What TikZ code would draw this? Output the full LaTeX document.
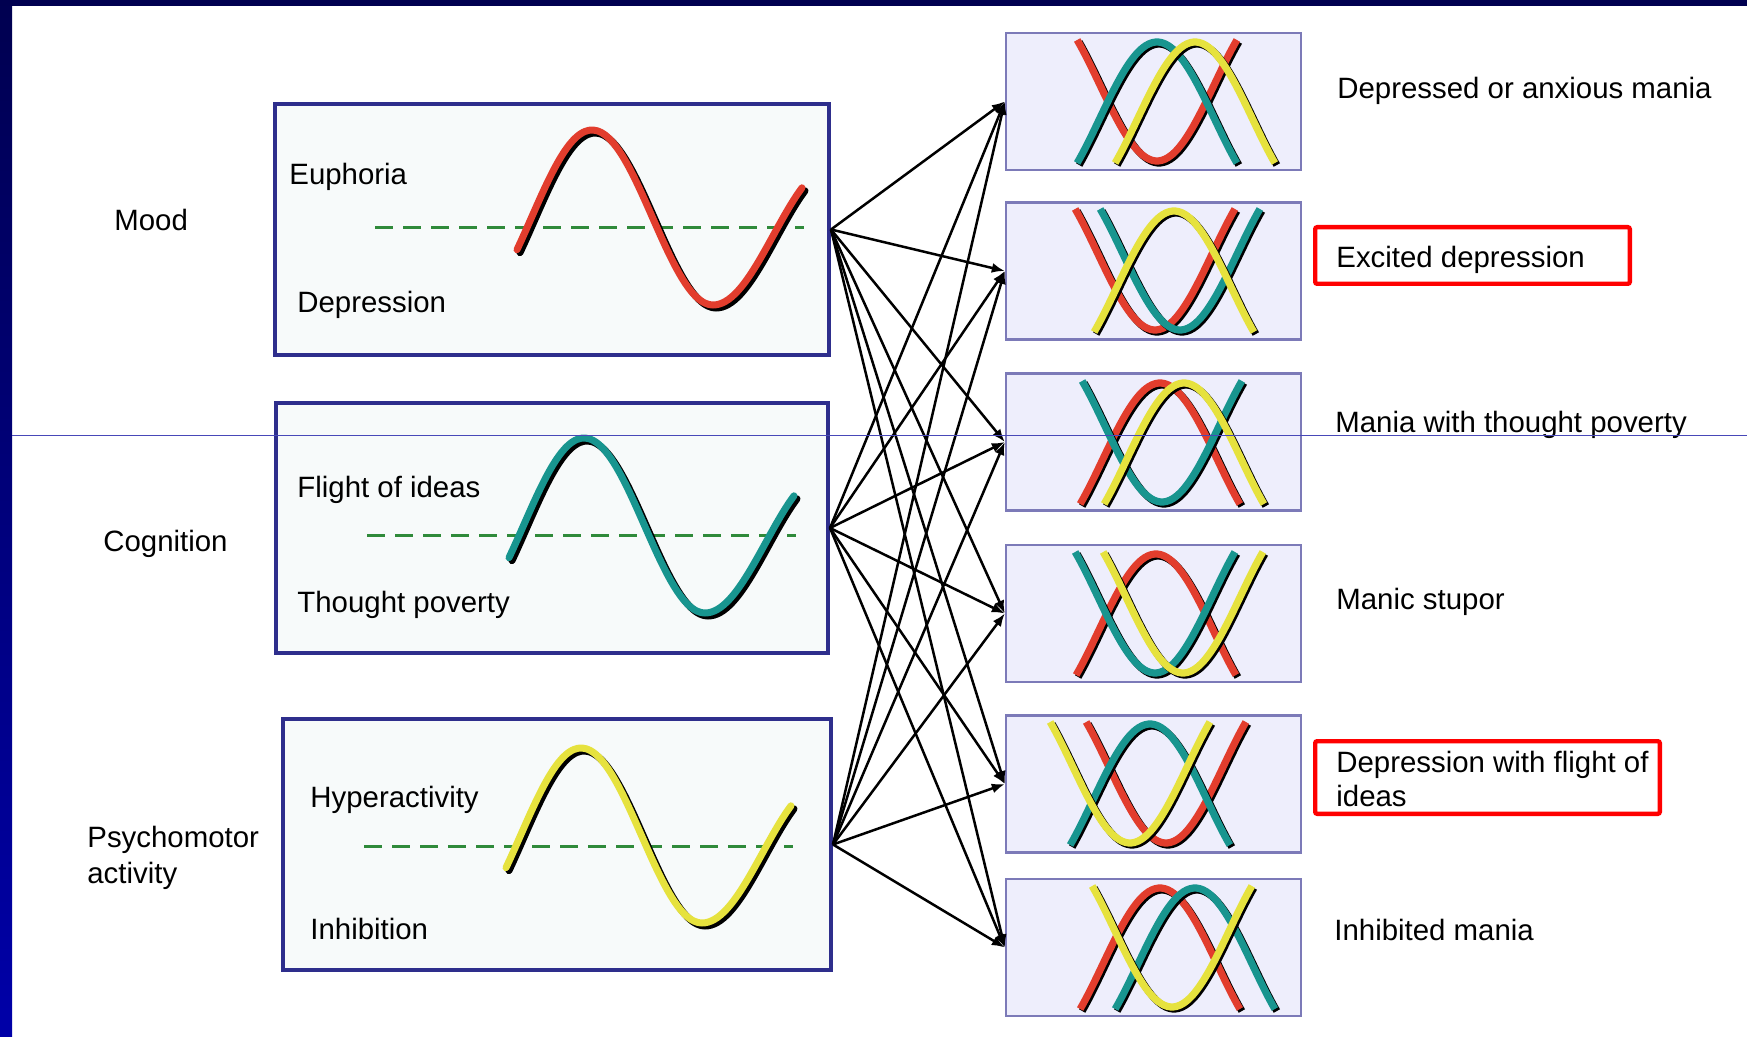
\documentclass[tikz,border=0pt]{standalone}
\usepackage{fontspec}
\setmainfont{Liberation Sans}
\usetikzlibrary{arrows.meta,calc}
\definecolor{navyA}{HTML}{000050}
\definecolor{navyB}{HTML}{0000A8}
\definecolor{lboxdraw}{HTML}{2E2E8C}
\definecolor{lboxfill}{HTML}{F7FAFA}
\definecolor{rboxdraw}{HTML}{7C7AB8}
\definecolor{rboxfill}{HTML}{EEEEFC}
\definecolor{cred}{HTML}{E23D2D}
\definecolor{cteal}{HTML}{18958F}
\definecolor{cyel}{HTML}{E6E23E}
\definecolor{dgreen}{HTML}{2F8A3A}
\definecolor{rulecol}{HTML}{4848B8}
\newcommand{\wavepath}[2]{%
  plot[domain=-75:121, samples=50, smooth] ({#1+\x}, {#2-10.5-87.5*cos(\x/121*180)})
  -- plot[domain=0:89, samples=30, smooth] ({#1+121+\x}, {#2+77-70*(1-cos(\x/121*180))})}
\newcommand{\humppath}[3]{%
  plot[domain=-125:125, samples=50, smooth] ({#1+\x/180*115}, {#2+68.5+(#3)*(17.4-76.9*cos(\x))})}
\begin{document}
\begin{tikzpicture}[x=0.5pt,y=-0.5pt,
  lbox/.style={draw=lboxdraw, fill=lboxfill, line width=2pt, inner sep=0pt},
  rbox/.style={draw=rboxdraw, fill=rboxfill, line width=1.2pt, inner sep=0pt, minimum width=147.5pt, minimum height=68.5pt},
  lbl/.style={anchor=base west, inner sep=0pt, font=\fontsize{14.7pt}{17.4pt}\selectfont},
  conn/.style={line width=1.25pt, -{Latex[length=6.5pt,width=5pt]}},
  redbox/.style={draw=red, line width=2.2pt, rounded corners=1pt, inner sep=0pt},
  wshadow/.style={black, line width=3.5pt, xshift=1.5pt, yshift=-1.5pt, line cap=round},
  wline/.style={line width=3.5pt, line cap=round},
  hshadow/.style={black, line width=3.6pt, xshift=1pt, yshift=-1pt},
  hstroke/.style={line width=3.6pt},
  dashline/.style={dgreen, line width=1.5pt, dash pattern=on 9pt off 5pt},
]
\useasboundingbox (0,0) rectangle (1747,1037);
% background
\fill[white] (0,0) rectangle (1747,1037);
\shade[top color=navyA, bottom color=navyB] (0,0) rectangle (12,1037);
\fill[navyA] (0,0) rectangle (1747,6);

% left boxes
\node[lbox, minimum width=277pt, minimum height=125.5pt] (mood) at (552,229.5) {};
\node[lbox, minimum width=276pt, minimum height=125pt] (cog) at (552,528) {};
\node[lbox, minimum width=274pt, minimum height=125.5pt] (psy) at (557,844.5) {};

% right boxes
\node[rbox] (r1) at (1153.5,101.5) {};
\node[rbox] (r2) at (1153.5,271) {};
\node[rbox] (r3) at (1153.5,442) {};
\node[rbox] (r4) at (1153.5,613.5) {};
\node[rbox] (r5) at (1153.5,784) {};
\node[rbox] (r6) at (1153.5,947.5) {};

% connectors
\foreach \l in {mood,cog,psy}
  \foreach \r in {r1,r2,r3,r4,r5,r6}
    \draw[conn] (\l.east) -- (\r.west);

% left waves
\draw[dashline] (375,228) -- (804,228);
\draw[wshadow] \wavepath{592}{228};
\draw[wline, cred] \wavepath{592}{228};
\draw[dashline] (367,536) -- (796,536);
\draw[wshadow] \wavepath{584}{536};
\draw[wline, cteal] \wavepath{584}{536};
\draw[dashline] (364,846) -- (793,846);
\draw[wshadow] \wavepath{581}{846};
\draw[wline, cyel] \wavepath{581}{846};

% right curves: center x, box top, +1 hump / -1 valley
\foreach \cx/\ty/\sg/\col in {
  1157/33/-1/cred, 1157/33/1/cteal, 1195/33/1/cyel,
  1155/202/-1/cred, 1180/202/-1/cteal, 1174/202/1/cyel,
  1160/374/1/cred, 1162/374/-1/cteal, 1184/374/1/cyel,
  1156/545/1/cred, 1155/545/-1/cteal, 1183/545/-1/cyel,
  1166/715/-1/cred, 1150/715/1/cteal, 1130/715/-1/cyel,
  1160/879/1/cred, 1195/879/1/cteal, 1172/879/-1/cyel}{
  \draw[hshadow] \humppath{\cx}{\ty}{\sg};
  \draw[hstroke, \col] \humppath{\cx}{\ty}{\sg};
}

% left labels
\node[lbl] (tmood) at (114,231) {Mood};
\node[lbl] (tcog) at (103,552) {Cognition};
\node[lbl] (tpsy) at (87,847) {\vtop{\baselineskip=18pt\hbox{Psychomotor}\hbox{activity}}};
\node[lbl] (teu) at (289,185) {Euphoria};
\node[lbl] (tdep) at (297,313) {Depression};
\node[lbl] (tfl) at (297,498) {Flight of ideas};
\node[lbl] (ttp) at (297,612) {Thought poverty};
\node[lbl] (thy) at (310,807) {Hyperactivity};
\node[lbl] (tin) at (310,939) {Inhibition};

% right labels
\node[lbl] (s1) at (1337,99) {Depressed or anxious mania};
\node[lbl] (s2) at (1336,268) {Excited depression};
\node[lbl] (s3) at (1335,433) {Mania with thought poverty};
\node[lbl] (s4) at (1336,610) {Manic stupor};
\node[lbl] (s5) at (1336,772) {\vtop{\hbox{Depression with flight of}\hbox{ideas}}};
\node[lbl] (s6) at (1334,940) {Inhibited mania};

% red highlight frames
\node[redbox, minimum width=157.3pt, minimum height=28.3pt] (rb1) at (1472.5,255.5) {};
\node[redbox, minimum width=172.3pt, minimum height=36.3pt] (rb2) at (1487.5,777.5) {};

% thin horizontal rule
\draw[rulecol, line width=0.5pt] (12,436) -- (1747,436);
\end{tikzpicture}
\end{document}
